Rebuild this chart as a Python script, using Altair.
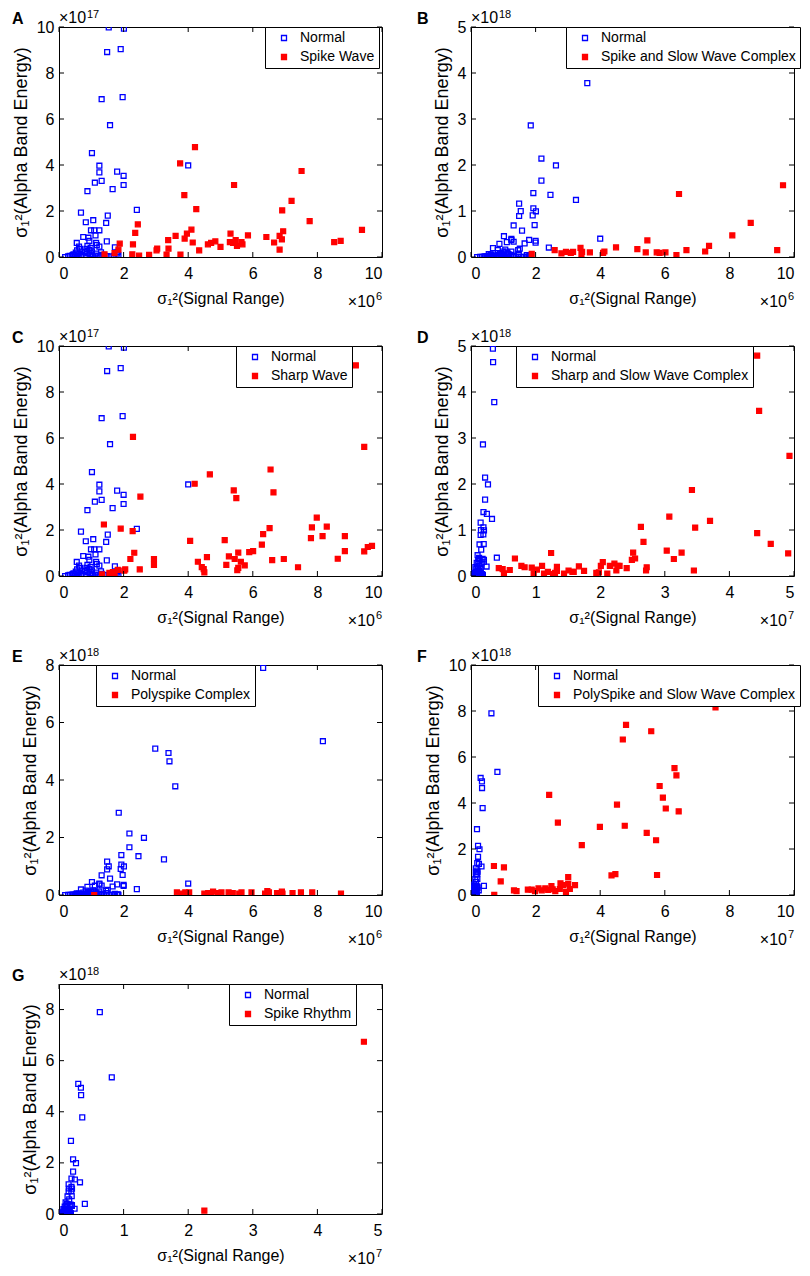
import altair as alt
import pandas as pd

FONT = "Liberation Sans"
BLUE = "#0000FF"
RED = "#FF0000"
W, H = 323, 230
TICK = 5

XTITLE = "σ₁²(Signal Range)"
YTITLE = "σ₁²(Alpha Band Energy)"

# Normal class (x in 1e6, y in 1e17) - shared by all panels
NORMAL_X = [6.32, 8.17, 2.98, 3.39, 3.42, 3.60, 1.85, 2.18, 2.63, 2.18, 1.93, 2.46, 3.25, 1.49, 1.93,
            1.54, 2.01, 1.49, 1.91, 1.32, 1.97, 1.58, 1.02, 1.25, 1.25, 1.32, 1.11, 1.80, 2.00, 2.00,
            1.66, 0.88, 2.41, 4.00, 0.68, 1.51, 1.06, 0.83, 1.46, 0.99, 1.09, 1.25, 1.13, 0.75, 0.91,
            0.94, 1.48, 0.55, 1.15, 1.73, 1.82,
            0.19, 0.28, 0.33, 0.39, 0.42, 0.45, 0.49, 0.52, 0.56, 0.60, 0.61, 0.65, 0.70, 0.62, 0.88,
            0.94, 0.88, 1.01, 1.11, 1.22, 1.32, 0.83, 1.17, 1.79, 1.84, 1.50, 1.02, 0.98, 0.80, 0.72,
            1.40, 1.60, 1.30, 1.05, 0.95, 0.55, 0.68, 1.15, 0.85, 1.70, 1.25]
NORMAL_Y = [79.0, 53.5, 50.9, 49.4, 46.5, 37.8, 28.6, 21.4, 19.9, 16.6, 13.9, 13.5, 12.4, 11.6, 10.6,
            9.98, 9.93, 8.91, 9.04, 6.86, 6.95, 5.73, 4.52, 3.97, 3.68, 3.31, 3.23, 3.71, 3.53, 3.13,
            2.95, 2.86, 2.05, 3.98, 1.93, 1.80, 1.60, 1.51, 1.48, 1.16, 1.16, 1.16, 0.94, 0.87, 0.84,
            0.70, 0.68, 0.61, 0.61, 0.42, 0.22,
            0.00, 0.03, 0.05, 0.03, 0.08, 0.12, 0.07, 0.19, 0.29, 0.15, 0.03, 0.35, 0.09, 0.45, 0.48,
            0.31, 0.16, 0.12, 0.06, 0.04, 0.09, 0.04, 0.52, 0.15, 0.07, 0.04, 0.25, 0.40, 0.22, 0.20,
            0.05, 0.02, 0.20, 0.02, 0.08, 0.02, 0.05, 0.15, 0.35, 0.05, 0.45]

# A: Spike Wave (x 1e6, y 1e17)
A_X = [4.21, 3.75, 7.51, 5.42, 3.88, 7.20, 4.25, 6.91, 7.76, 2.44, 9.38, 4.10, 6.94, 2.36, 3.96,
       5.31, 5.85, 3.61, 6.83, 6.42, 3.38, 3.89, 5.47, 5.29, 5.39, 6.90, 8.72, 8.52, 4.14, 4.84,
       4.71, 4.61, 5.00, 5.65, 5.68, 5.51, 6.66, 1.88, 2.29, 4.34, 3.02, 3.04, 3.39, 6.83, 1.84,
       1.72, 2.27, 2.48, 2.79, 3.33, 3.76, 1.41]
A_Y = [4.78, 4.07, 3.74, 3.13, 2.69, 2.44, 2.08, 2.03, 1.56, 1.42, 1.18, 1.19, 1.12, 1.05, 1.02,
       1.02, 0.94, 0.92, 0.92, 0.87, 0.73, 0.80, 0.73, 0.65, 0.61, 0.77, 0.70, 0.65, 0.63, 0.68,
       0.61, 0.55, 0.44, 0.65, 0.55, 0.48, 0.63, 0.58, 0.55, 0.29, 0.29, 0.36, 0.36, 0.32, 0.32,
       0.17, 0.12, 0.06, 0.09, 0.10, 0.10, 0.12]

# B: Spike and Slow Wave Complex (x 1e6, y 1e18)
B_X = [9.66, 6.44, 8.66, 8.09, 5.46, 7.37, 4.49, 3.39, 5.15, 9.48, 6.67, 2.59, 7.25, 4.13, 3.44,
       3.16, 2.94, 3.68, 5.41, 5.75, 6.02, 5.84, 1.88, 2.80, 3.09, 3.42, 4.09, 6.36]
B_Y = [1.56, 1.37, 0.74, 0.47, 0.36, 0.24, 0.21, 0.20, 0.17, 0.15, 0.15, 0.15, 0.12, 0.12, 0.11,
       0.11, 0.11, 0.10, 0.10, 0.10, 0.10, 0.09, 0.07, 0.08, 0.09, 0.07, 0.09, 0.04]

# C: Sharp Wave (x 1e6, y 1e17)
C_X = [9.19, 9.45, 2.29, 6.55, 4.67, 4.20, 5.41, 6.64, 5.49, 2.52, 7.98, 1.39, 7.83, 8.29, 6.52,
       1.91, 2.28, 6.32, 7.80, 8.16, 8.85, 4.06, 5.13, 9.69, 9.56, 6.28, 6.01, 5.89, 8.85, 9.45,
       5.55, 2.33, 5.26, 4.58, 2.21, 2.94, 5.44, 6.96, 6.60, 8.63, 4.30, 5.63, 5.18, 5.75, 2.94,
       4.42, 7.40, 5.55, 4.48, 2.50, 2.05, 2.02, 1.82, 5.52, 4.50, 1.67, 1.56, 1.33, 1.72]
C_Y = [9.16, 5.61, 6.05, 4.63, 4.42, 4.01, 3.72, 3.64, 3.39, 3.45, 2.54, 2.24, 2.11, 2.15, 2.08,
       2.06, 1.95, 1.82, 1.65, 1.73, 1.73, 1.53, 1.56, 1.31, 1.26, 1.36, 1.08, 1.04, 1.08, 1.07,
       1.02, 1.01, 0.85, 0.82, 0.74, 0.74, 0.74, 0.74, 0.69, 0.75, 0.62, 0.62, 0.48, 0.46, 0.48,
       0.39, 0.38, 0.35, 0.30, 0.29, 0.29, 0.23, 0.27, 0.25, 0.16, 0.17, 0.14, 0.07, 0.10]

# D: Sharp and Slow Wave Complex (x 1e7, y 1e18)
D_X = [4.43, 4.46, 4.93, 3.42, 3.07, 3.70, 2.63, 3.47, 4.43, 2.67, 4.64, 3.03, 3.26, 4.91, 2.51,
       1.24, 3.14, 2.54, 2.49, 0.68, 3.45, 2.04, 2.22, 2.72, 2.71, 2.27, 2.15, 2.01, 2.41, 2.30,
       1.67, 1.33, 0.78, 0.83, 0.43, 0.49, 0.60, 0.94, 1.02, 1.10, 1.75, 1.51, 1.59, 1.33, 1.30,
       1.27, 1.94, 1.98, 2.11, 1.44, 1.13, 0.97, 0.51, 1.57, 2.25, 1.19]
D_Y = [4.79, 3.59, 2.61, 1.87, 1.29, 1.20, 1.07, 1.05, 0.93, 0.74, 0.70, 0.55, 0.51, 0.49, 0.51,
       0.50, 0.37, 0.38, 0.35, 0.38, 0.12, 0.30, 0.27, 0.19, 0.12, 0.22, 0.22, 0.22, 0.17, 0.22,
       0.21, 0.20, 0.22, 0.19, 0.17, 0.15, 0.13, 0.18, 0.14, 0.22, 0.11, 0.12, 0.09, 0.11, 0.07,
       0.04, 0.07, 0.08, 0.05, 0.05, 0.05, 0.06, 0.06, 0.09, 0.12, 0.09]

# E: Polyspike Complex (x 1e6, y 1e18)
E_X = [1.09, 3.65, 3.81, 3.91, 4.03, 4.50, 4.62, 4.77, 4.92, 5.03, 5.25, 5.38, 5.58, 5.65, 5.96,
       6.38, 6.45, 6.75, 6.90, 6.92, 7.23, 7.49, 7.84, 8.73, 6.50, 3.99, 4.70]
E_Y = [0.00, 0.09, 0.05, 0.09, 0.09, 0.05, 0.07, 0.12, 0.07, 0.09, 0.09, 0.07, 0.05, 0.09, 0.09,
       0.05, 0.14, 0.07, 0.12, 0.05, 0.07, 0.09, 0.09, 0.05, 0.09, 0.03, 0.06]

# F: PolySpike and Slow Wave Complex (x 1e7, y 1e18)
F_X = [7.57, 4.80, 4.70, 5.58, 6.30, 6.36, 5.84, 2.42, 5.94, 4.52, 6.03, 6.43, 2.69, 3.99, 4.76,
       5.44, 5.73, 3.43, 0.71, 1.02, 0.92, 4.35, 4.47, 5.76, 3.01, 3.22, 2.77, 3.01, 2.49, 0.72,
       1.33, 1.41, 1.76, 1.88, 1.98, 2.09, 2.19, 2.30, 2.39, 2.53, 2.61, 2.75, 2.94, 3.06, 2.86]
F_Y = [8.16, 7.40, 6.76, 7.12, 5.52, 5.20, 4.74, 4.35, 4.23, 3.93, 3.76, 3.64, 3.15, 2.96, 3.01,
       2.70, 2.38, 2.17, 1.26, 1.20, 0.59, 0.85, 0.91, 0.87, 0.78, 0.43, 0.51, 0.49, 0.39, 0.01,
       0.20, 0.17, 0.23, 0.23, 0.17, 0.29, 0.20, 0.29, 0.22, 0.25, 0.17, 0.26, 0.14, 0.26, 0.43]

# G: Spike Rhythm (x 1e7, y 1e18)
G_X = [2.25, 4.72]
G_Y = [0.13, 6.74]

T10 = [0, 2, 4, 6, 8, 10]
T5 = [0, 1, 2, 3, 4, 5]
T8 = [0, 2, 4, 6, 8]

PANELS = [
    dict(letter="A", label="Spike Wave", xs=A_X, ys=A_Y, nx=1.0, ny=1.0, xmax=10, ymax=10,
         xt=T10, yt=T10, yexp="17", xexp="6", lx=206, col=0),
    dict(letter="B", label="Spike and Slow Wave Complex", xs=B_X, ys=B_Y, nx=1.0, ny=0.1, xmax=10, ymax=5,
         xt=T10, yt=T5, yexp="18", xexp="6", lx=95, col=1),
    dict(letter="C", label="Sharp Wave", xs=C_X, ys=C_Y, nx=1.0, ny=1.0, xmax=10, ymax=10,
         xt=T10, yt=T10, yexp="17", xexp="6", lx=177, col=0),
    dict(letter="D", label="Sharp and Slow Wave Complex", xs=D_X, ys=D_Y, nx=0.1, ny=0.1, xmax=5, ymax=5,
         xt=T5, yt=T5, yexp="18", xexp="7", lx=45, col=1),
    dict(letter="E", label="Polyspike Complex", xs=E_X, ys=E_Y, nx=1.0, ny=0.1, xmax=10, ymax=8,
         xt=T10, yt=T8, yexp="18", xexp="6", lx=37, col=0),
    dict(letter="F", label="PolySpike and Slow Wave Complex", xs=F_X, ys=F_Y, nx=0.1, ny=0.1, xmax=10, ymax=10,
         xt=T10, yt=T10, yexp="18", xexp="7", lx=67, col=1),
    dict(letter="G", label="Spike Rhythm", xs=G_X, ys=G_Y, nx=0.1, ny=0.1, xmax=5, ymax=9,
         xt=T5, yt=T8, yexp="18", xexp="7", lx=170, col=0),
]


def txt(s, **kw):
    return alt.Chart(pd.DataFrame({"t": [s]})).mark_text(font=FONT, color="black", **kw)


def make_panel(p):
    df_n = pd.DataFrame({"x": [v * p["nx"] for v in NORMAL_X],
                         "y": [v * p["ny"] for v in NORMAL_Y],
                         "series": "Normal"})
    df_r = pd.DataFrame({"x": p["xs"], "y": p["ys"], "series": p["label"]})
    df = pd.concat([df_n, df_r], ignore_index=True)
    dom = ["Normal", p["label"]]

    X = alt.X("x:Q", scale=alt.Scale(domain=[0, p["xmax"]], nice=False, zero=False),
              axis=alt.Axis(values=p["xt"], title=XTITLE))
    Y = alt.Y("y:Q", scale=alt.Scale(domain=[0, p["ymax"]], nice=False, zero=False),
              axis=alt.Axis(values=p["yt"], title=YTITLE))
    leg = alt.Legend(title=None, orient="none", legendX=p["lx"], legendY=0)

    pts = alt.Chart(df).mark_point(shape="square", size=24, strokeWidth=1.3, opacity=1,
                                   fillOpacity=1, clip=True).encode(
        x=X, y=Y,
        stroke=alt.Stroke("series:N", scale=alt.Scale(domain=dom, range=[BLUE, RED]), legend=leg),
        fill=alt.Fill("series:N", scale=alt.Scale(domain=dom, range=["transparent", RED]), legend=leg),
    )
    xt = pd.DataFrame({"x": p["xt"]})
    yt = pd.DataFrame({"y": p["yt"]})
    rule = dict(color="black", strokeWidth=1)
    bot = alt.Chart(xt).mark_rule(**rule).encode(x=X, y=alt.value(H), y2=alt.value(H - TICK))
    top = alt.Chart(xt).mark_rule(**rule).encode(x=X, y=alt.value(0), y2=alt.value(TICK))
    lef = alt.Chart(yt).mark_rule(**rule).encode(y=Y, x=alt.value(0), x2=alt.value(TICK))
    rig = alt.Chart(yt).mark_rule(**rule).encode(y=Y, x=alt.value(W), x2=alt.value(W - TICK))

    lx = -47 if p["col"] == 0 else -54
    letter = txt(p["letter"], fontSize=16, fontWeight="bold", align="left", baseline="alphabetic").encode(
        text="t:N", x=alt.value(lx), y=alt.value(-3))
    ybase = txt("×10", fontSize=16, align="left", baseline="alphabetic").encode(
        text="t:N", x=alt.value(0), y=alt.value(-4))
    ysup = txt(p["yexp"], fontSize=11, align="left", baseline="alphabetic").encode(
        text="t:N", x=alt.value(28), y=alt.value(-9))
    xbase = txt("×10", fontSize=16, align="right", baseline="alphabetic").encode(
        text="t:N", x=alt.value(W - 7), y=alt.value(H + 50))
    xsup = txt(p["xexp"], fontSize=11, align="right", baseline="alphabetic").encode(
        text="t:N", x=alt.value(W), y=alt.value(H + 43))

    return alt.layer(pts, bot, top, lef, rig, letter, ybase, ysup, xbase, xsup).properties(width=W, height=H)


charts = [make_panel(p) for p in PANELS]

chart = alt.concat(*charts, columns=2, spacing={"row": 16, "column": 33}).resolve_scale(
    stroke="independent", fill="independent"
).resolve_legend(stroke="independent", fill="independent").configure_view(
    stroke="black", strokeWidth=1
).configure_axis(
    labelFont=FONT, labelFontSize=16, labelColor="black", titleFont=FONT, titleFontWeight="normal",
    titleColor="black", grid=False, ticks=False, tickSize=0, domain=False
).configure_axisX(
    labelPadding=8, titlePadding=9, titleFontSize=16
).configure_axisY(
    labelPadding=5, titlePadding=6, titleFontSize=18
).configure_legend(
    strokeColor="black", fillColor="white", padding=4, labelFont=FONT, labelFontSize=14,
    labelColor="black", symbolType="square", symbolSize=25, symbolStrokeWidth=1.3,
    rowPadding=5, labelOffset=9, symbolOffset=8, labelLimit=400
).properties(padding={"left": 3, "top": 0, "right": 0, "bottom": 0})

chart.save("out.html", embed_options={"renderer": "svg", "actions": False})
